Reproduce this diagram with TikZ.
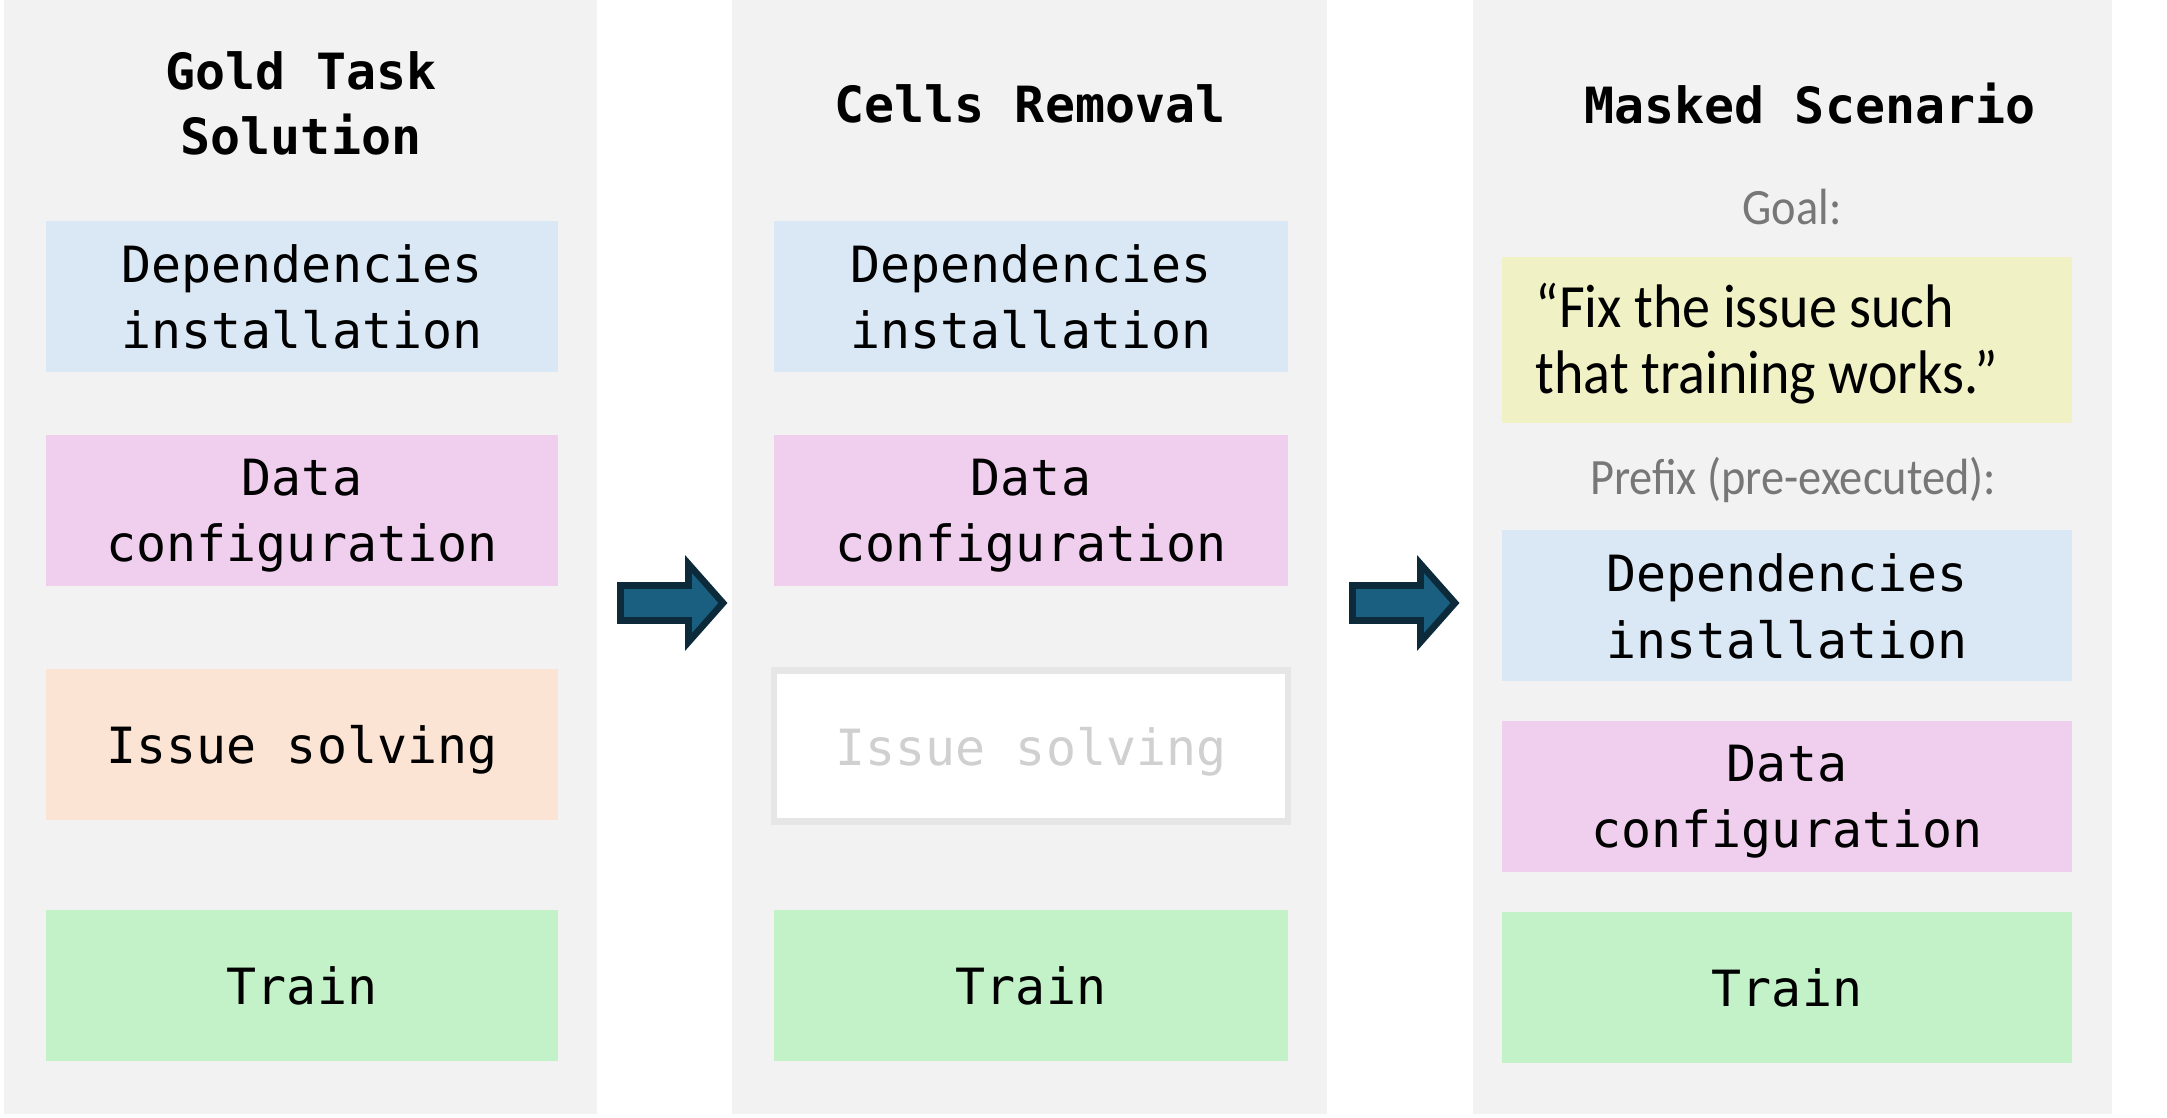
\documentclass[tikz,border=0pt]{standalone}
\usepackage{fontspec}
\setmonofont{DejaVu Sans Mono}
\newfontfamily\notefont[FakeStretch=0.91]{Carlito}

\definecolor{panelgray}{HTML}{F2F2F2}
\definecolor{depblue}{HTML}{DAE8F6}
\definecolor{datapink}{HTML}{F0CFEE}
\definecolor{issuepeach}{HTML}{FCE4D5}
\definecolor{traingreen}{HTML}{C3F1C8}
\definecolor{goalyellow}{HTML}{F0F1C4}
\definecolor{arrowfill}{HTML}{1A5E80}
\definecolor{arrowedge}{HTML}{0D2A3B}
\definecolor{labelgray}{HTML}{777777}
\definecolor{ghosttext}{HTML}{D0D0D0}
\definecolor{ghostedge}{HTML}{E6E6E6}

\tikzset{
	stage/.style={minimum height=1.51cm, inner sep=0pt, align=center, text depth=0pt,
		font=\ttfamily\fontsize{14.2}{18.9}\selectfont},
	title/.style={align=center, font=\ttfamily\bfseries\fontsize{14.2}{18.3}\selectfont},
	note/.style={text=labelgray, font=\notefont\fontsize{14.5}{16}\selectfont},
	blockarrow/.style={fill=arrowfill, draw=arrowedge, line width=1.9pt, line join=miter},
}

\begin{document}
\begin{tikzpicture}
		\useasboundingbox (0,0) rectangle (21.67,-11.18);
		% Panels
		\fill[panelgray] (0.04,0) rectangle (5.97,-11.14);
		\fill[panelgray] (7.32,0) rectangle (13.27,-11.14);
		\fill[panelgray] (14.73,0) rectangle (21.12,-11.14);
		% Gold task solution
		\node[title] (gold) at (3.01,-1.035) {Gold Task\\Solution};
		\node[stage, minimum width=5.12cm, fill=depblue] (dep1) at (3.02,-2.965) {Dependencies\\installation};
		\node[stage, minimum width=5.12cm, fill=datapink] (data1) at (3.02,-5.105) {Data\\configuration};
		\node[stage, minimum width=5.12cm, fill=issuepeach] (issue1) at (3.02,-7.445) {Issue solving};
		\node[stage, minimum width=5.12cm, fill=traingreen] (train1) at (3.02,-9.86) {Train};
		% Cells removal
		\node[title] (cells) at (10.30,-1.04) {Cells Removal};
		\node[stage, minimum width=5.14cm, fill=depblue] (dep2) at (10.31,-2.965) {Dependencies\\installation};
		\node[stage, minimum width=5.14cm, fill=datapink] (data2) at (10.31,-5.105) {Data\\configuration};
		\node[stage, minimum width=5.14cm, fill=white, draw=ghostedge, line width=1.8pt, text=ghosttext] (issue2) at (10.31,-7.46) {Issue solving};
		\node[stage, minimum width=5.14cm, fill=traingreen] (train2) at (10.31,-9.86) {Train};
		% Masked scenario
		\node[title] (masked) at (18.10,-1.04) {Masked Scenario};
		\node[note] (goal) at (17.92,-2.07) {Goal:};
		\node[fill=goalyellow, minimum width=5.70cm, minimum height=1.66cm] (goalbox) at (17.87,-3.40) {};
		\node[anchor=west, align=left, inner sep=0pt,
			font=\notefont\fontsize{17.5}{18.8}\selectfont] (goaltext) at (15.35,-3.44)
			{“Fix the issue such\\that training works.”};
		\node[note] (prefix) at (17.93,-4.80) {Prefix (pre-executed):};
		\node[stage, minimum width=5.70cm, fill=depblue] (dep3) at (17.87,-6.06) {Dependencies\\installation};
		\node[stage, minimum width=5.70cm, fill=datapink] (data3) at (17.87,-7.965) {Data\\configuration};
		\node[stage, minimum width=5.70cm, fill=traingreen] (train3) at (17.87,-9.875) {Train};
		% Arrows between panels
		\foreach \dx in {0,7.32}
			\filldraw[blockarrow, xshift=\dx cm] (6.205,-5.855) -- (6.885,-5.855) -- (6.885,-5.64)
				-- (7.23,-6.03) -- (6.885,-6.42) -- (6.885,-6.205) -- (6.205,-6.205) -- cycle;
	\end{tikzpicture}
\end{document}
